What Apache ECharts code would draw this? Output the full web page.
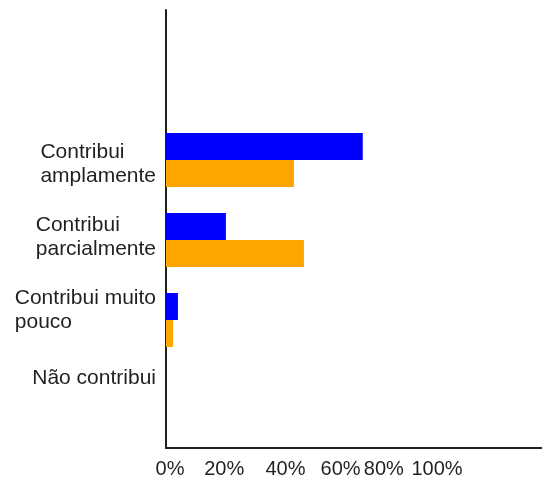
<!DOCTYPE html>
<html>
<head>
<meta charset="utf-8">
<script src="https://cdn.jsdelivr.net/npm/echarts@6/dist/echarts.min.js"></script>
<style>
  html, body { margin: 0; padding: 0; background: #ffffff; }
  #chart { width: 542px; height: 479px; }
</style>
</head>
<body>
<div id="chart"></div>
<script>
// ---- data ----
const categories = ['Contribui\namplamente', 'Contribui\nparcialmente', 'Contribui muito\npouco', 'Não contribui'];
const blueValues = [72.6, 22.1, 4.4, 0];
const orangeValues = [47.2, 50.9, 2.6, 0];
const tickValues = [0, 20, 40, 60, 80, 100];
const tickLabels = ['0%', '20%', '40%', '60%', '80%', '100%'];

// ---- style (label nudges, in px) ----
const yLabelShift = [4, -3, -10, -22];          // vertical nudge per category label
const xLabelShift = [4, 4, 11, 12, 1, 0];        // horizontal nudge per tick label

const FONT = 'Liberation Sans, Arial, Helvetica, sans-serif';
const TXT = '#231f20';

const yData = categories.map((c, i) => {
  const s = yLabelShift[i];
  return {
    value: c,
    textStyle: { padding: s >= 0 ? [2 * s, 0, 0, 0] : [0, 0, -2 * s, 0] }
  };
});

const xRich = {};
tickValues.forEach((v, i) => {
  const s = xLabelShift[i];
  xRich['t' + i] = {
    fontFamily: FONT, fontSize: 20, color: TXT,
    padding: s >= 0 ? [0, 0, 0, 2 * s] : [0, -2 * s, 0, 0]
  };
});

const chart = echarts.init(document.getElementById('chart'), null, { renderer: 'canvas' });
chart.setOption({
  animation: false,
  backgroundColor: '#ffffff',
  grid: [
    { left: 166, top: 120, width: 271, height: 320, containLabel: false },
    { left: 166, top: 10, right: 0, bottom: 31, containLabel: false }
  ],
  xAxis: [
    {
      gridIndex: 0, type: 'value', min: 0, max: 100, interval: 20,
      offset: 8,
      axisLine: { show: false }, axisTick: { show: false }, splitLine: { show: false },
      axisLabel: {
        margin: 11,
        formatter: function (v) {
          const i = tickValues.indexOf(v);
          return i < 0 ? '' : '{t' + i + '|' + tickLabels[i] + '}';
        },
        rich: xRich
      }
    },
    {
      gridIndex: 1, type: 'value', min: 0, max: 1,
      axisLine: { show: true, lineStyle: { color: TXT, width: 2 } },
      axisTick: { show: false }, axisLabel: { show: false }, splitLine: { show: false }
    }
  ],
  yAxis: [
    {
      gridIndex: 0, type: 'category', inverse: true, data: yData,
      axisLine: { show: false }, axisTick: { show: false }, splitLine: { show: false },
      axisLabel: {
        margin: 10,
        formatter: function (v) { return '{a|' + v + '}'; },
        rich: { a: { fontFamily: FONT, fontSize: 21, lineHeight: 24, color: TXT, align: 'left' } }
      }
    },
    {
      gridIndex: 1, type: 'value', min: 0, max: 1,
      axisLine: { show: true, lineStyle: { color: TXT, width: 2 } },
      axisTick: { show: false }, axisLabel: { show: false }, splitLine: { show: false }
    }
  ],
  series: [
    {
      type: 'bar', xAxisIndex: 0, yAxisIndex: 0, data: blueValues,
      barWidth: 27, barGap: '0%', itemStyle: { color: '#0000ff' }, silent: true
    },
    {
      type: 'bar', xAxisIndex: 0, yAxisIndex: 0, data: orangeValues,
      barWidth: 27, barGap: '0%', itemStyle: { color: '#ffa500' }, silent: true
    }
  ]
});
</script>
</body>
</html>
